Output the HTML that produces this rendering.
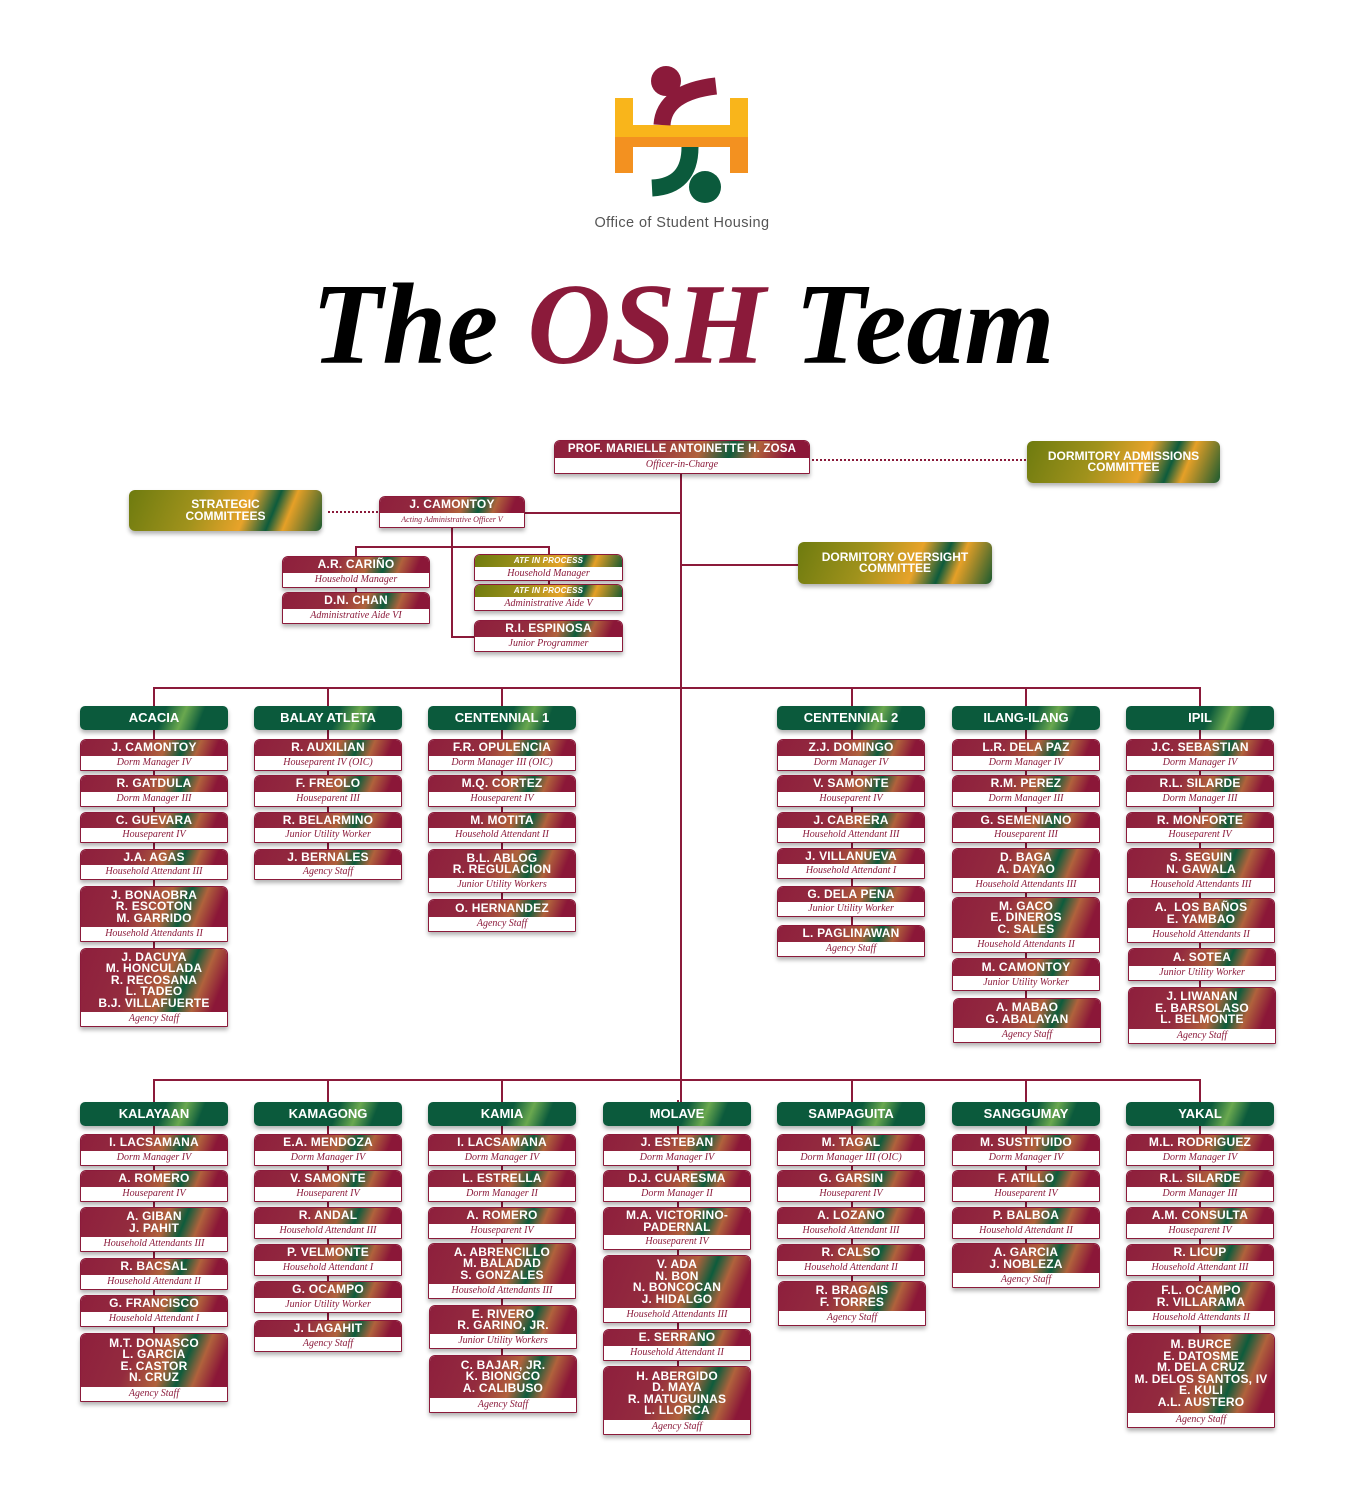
<!DOCTYPE html>
<html><head><meta charset="utf-8"><style>
body{margin:0;background:#fff;width:1354px;height:1509px;position:relative;overflow:hidden;font-family:"Liberation Sans",sans-serif}
.l{position:absolute;background:#8b1a3a}
.d{position:absolute;height:0;border-top:2px dotted #8b1a3a}
.c{position:absolute;width:148px;box-sizing:border-box;border:1px solid #8b1a3a;border-radius:6px 6px 1px 1px;display:flex;flex-direction:column;overflow:hidden;box-shadow:0 3px 4px rgba(0,0,0,.3);background:#fff;z-index:2}
.c b{flex:1;display:flex;align-items:center;justify-content:center;text-align:center;color:#fff;font-size:12px;line-height:11.5px;letter-spacing:.2px;background:linear-gradient(112deg,#8e1f3d 0%,#932b3e 35%,#b0623c 57%,#0d5c3c 69%,#b0623c 79%,#8b1738 91%)}
.c i{height:14px;flex:none;text-align:center;font-family:"Liberation Serif",serif;font-size:10px;line-height:14px;color:#8b1a3a;background:#fff}
.h{position:absolute;width:148px;height:24px;border-radius:5px;color:#fff;font-weight:bold;font-size:13px;line-height:24px;text-align:center;background:linear-gradient(112deg,#0b5a3c 0%,#0b5a3c 55%,#6aa84f 68%,#0b5a3c 80%,#0b5a3c 100%);box-shadow:0 3px 4px rgba(0,0,0,.3);z-index:2}
.m{position:absolute;border-radius:6px;color:#fff;font-weight:bold;font-size:12px;line-height:11.5px;display:flex;align-items:center;justify-content:center;text-align:center;background:linear-gradient(112deg,#6e7b0f 0%,#a0921c 35%,#e8a32a 60%,#0d5b3c 73%,#e6a027 81%,#1a5a30 100%);box-shadow:0 3px 4px rgba(0,0,0,.3);z-index:2}
.a b{background:linear-gradient(112deg,#6e7b0f 0%,#a0921c 35%,#e8a32a 60%,#0d5b3c 73%,#e6a027 81%,#1a5a30 100%);font-size:8px;font-style:italic}
</style></head><body>

<!-- logo -->
<svg style="position:absolute;left:600px;top:60px" width="160" height="150" viewBox="600 60 160 150">
<rect x="615" y="98" width="18" height="39" fill="#f9b51b"/><rect x="730" y="98" width="18" height="39" fill="#f9b51b"/>
<rect x="615" y="125" width="133" height="12" fill="#f9b51b"/>
<rect x="615" y="137" width="18" height="36" fill="#f39120"/><rect x="730" y="137" width="18" height="36" fill="#f39120"/>
<rect x="615" y="137" width="133" height="10" fill="#f39120"/>
<circle cx="666" cy="81" r="15" fill="#8b1a3a"/>
<path d="M662 125 Q664 92 716 86" stroke="#8b1a3a" stroke-width="17" fill="none"/>
<path d="M690 147 Q690 186 652 188" stroke="#0b5a3c" stroke-width="17" fill="none"/>
<circle cx="705" cy="187" r="16" fill="#0b5a3c"/>
</svg>
<div style="position:absolute;left:530px;top:215px;width:304px;text-align:center;font-size:14.5px;color:#555;letter-spacing:.4px">Office of Student Housing</div>
<div style="position:absolute;left:0;top:263px;width:1366px;text-align:center;font-family:'Liberation Serif',serif;font-weight:bold;font-style:italic;font-size:116px;line-height:124px;color:#000">The <span style="color:#8b1a3a">OSH</span> Team</div>

<!-- top connectors -->
<div class="l" style="left:680px;top:474px;width:2px;height:630px"></div>
<div class="l" style="left:525px;top:512px;width:156px;height:2px"></div>
<div class="l" style="left:681px;top:564px;width:118px;height:2px"></div>
<div class="d" style="left:812px;top:459px;width:214px"></div>
<div class="d" style="left:328px;top:511px;width:50px"></div>
<div class="l" style="left:451px;top:528px;width:2px;height:110px"></div>
<div class="l" style="left:355px;top:546px;width:195px;height:2px"></div>
<div class="l" style="left:355px;top:546px;width:2px;height:12px"></div>
<div class="l" style="left:548px;top:546px;width:2px;height:10px"></div>
<div class="l" style="left:451px;top:636px;width:24px;height:2px"></div>
<div class="l" style="left:355px;top:586px;width:2px;height:8px"></div>
<div class="l" style="left:548px;top:580px;width:2px;height:6px"></div>

<div class="c" style="left:554px;top:440px;width:256px;height:34px"><b style="font-size:11.5px">PROF. MARIELLE ANTOINETTE H. ZOSA</b><i style="height:15px">Officer-in-Charge</i></div>
<div class="m" style="left:1027px;top:441px;width:193px;height:42px">DORMITORY ADMISSIONS<br>COMMITTEE</div>
<div class="m" style="left:129px;top:490px;width:193px;height:41px">STRATEGIC<br>COMMITTEES</div>
<div class="m" style="left:798px;top:542px;width:194px;height:42px">DORMITORY OVERSIGHT<br>COMMITTEE</div>
<div class="c" style="left:379px;top:496px;width:146px;height:32px"><b>J. CAMONTOY</b><i style="font-size:8px">Acting Administrative Officer V</i></div>
<div class="c" style="left:282px;top:556px;height:32px"><b>A.R. CARIÑO</b><i>Household Manager</i></div>
<div class="c" style="left:282px;top:592px;height:32px"><b>D.N. CHAN</b><i>Administrative Aide VI</i></div>
<div class="c a" style="left:474px;top:554px;width:149px;height:27px"><b>ATF IN PROCESS</b><i>Household Manager</i></div>
<div class="c a" style="left:474px;top:584px;width:149px;height:27px"><b>ATF IN PROCESS</b><i>Administrative Aide V</i></div>
<div class="c" style="left:474px;top:620px;width:149px;height:32px"><b>R.I. ESPINOSA</b><i>Junior Programmer</i></div>

<!-- row1 connectors -->
<div class="l" style="left:153px;top:687px;width:1048px;height:2px"></div>
<div class="l" style="left:153px;top:687px;width:2px;height:330px"></div>
<div class="l" style="left:327px;top:687px;width:2px;height:180px"></div>
<div class="l" style="left:501px;top:687px;width:2px;height:220px"></div>
<div class="l" style="left:851px;top:687px;width:2px;height:250px"></div>
<div class="l" style="left:1025px;top:687px;width:2px;height:320px"></div>
<div class="l" style="left:1199px;top:687px;width:2px;height:320px"></div>

<div class="h" style="left:80px;top:706px">ACACIA</div>
<div class="h" style="left:254px;top:706px">BALAY ATLETA</div>
<div class="h" style="left:428px;top:706px">CENTENNIAL 1</div>
<div class="h" style="left:777px;top:706px">CENTENNIAL 2</div>
<div class="h" style="left:952px;top:706px">ILANG-ILANG</div>
<div class="h" style="left:1126px;top:706px">IPIL</div>

<div class="c" style="left:80px;top:739px;height:32px"><b>J. CAMONTOY</b><i>Dorm Manager IV</i></div>
<div class="c" style="left:80px;top:775px;height:32px"><b>R. GATDULA</b><i>Dorm Manager III</i></div>
<div class="c" style="left:80px;top:812px;height:31px"><b>C. GUEVARA</b><i>Houseparent IV</i></div>
<div class="c" style="left:80px;top:849px;height:31px"><b>J.A. AGAS</b><i>Household Attendant III</i></div>
<div class="c" style="left:80px;top:886px;height:56px"><b>J. BONAOBRA<br>R. ESCOTON<br>M. GARRIDO</b><i>Household Attendants II</i></div>
<div class="c" style="left:80px;top:948px;height:79px"><b>J. DACUYA<br>M. HONCULADA<br>R. RECOSANA<br>L. TADEO<br>B.J. VILLAFUERTE</b><i>Agency Staff</i></div>

<div class="c" style="left:254px;top:739px;height:32px"><b>R. AUXILIAN</b><i>Houseparent IV (OIC)</i></div>
<div class="c" style="left:254px;top:775px;height:32px"><b>F. FREOLO</b><i>Houseparent III</i></div>
<div class="c" style="left:254px;top:812px;height:31px"><b>R. BELARMINO</b><i>Junior Utility Worker</i></div>
<div class="c" style="left:254px;top:849px;height:31px"><b>J. BERNALES</b><i>Agency Staff</i></div>

<div class="c" style="left:428px;top:739px;height:32px"><b>F.R. OPULENCIA</b><i>Dorm Manager III (OIC)</i></div>
<div class="c" style="left:428px;top:775px;height:32px"><b>M.Q. CORTEZ</b><i>Houseparent IV</i></div>
<div class="c" style="left:428px;top:812px;height:31px"><b>M. MOTITA</b><i>Household Attendant II</i></div>
<div class="c" style="left:428px;top:849px;height:44px"><b>B.L. ABLOG<br>R. REGULACION</b><i>Junior Utility Workers</i></div>
<div class="c" style="left:428px;top:899px;height:33px"><b>O. HERNANDEZ</b><i>Agency Staff</i></div>

<div class="c" style="left:777px;top:739px;height:32px"><b>Z.J. DOMINGO</b><i>Dorm Manager IV</i></div>
<div class="c" style="left:777px;top:775px;height:32px"><b>V. SAMONTE</b><i>Houseparent IV</i></div>
<div class="c" style="left:777px;top:812px;height:31px"><b>J. CABRERA</b><i>Household Attendant III</i></div>
<div class="c" style="left:777px;top:848px;height:31px"><b>J. VILLANUEVA</b><i>Household Attendant I</i></div>
<div class="c" style="left:777px;top:886px;height:31px"><b>G. DELA PENA</b><i>Junior Utility Worker</i></div>
<div class="c" style="left:777px;top:925px;height:32px"><b>L. PAGLINAWAN</b><i>Agency Staff</i></div>

<div class="c" style="left:952px;top:739px;height:32px"><b>L.R. DELA PAZ</b><i>Dorm Manager IV</i></div>
<div class="c" style="left:952px;top:775px;height:32px"><b>R.M. PEREZ</b><i>Dorm Manager III</i></div>
<div class="c" style="left:952px;top:812px;height:31px"><b>G. SEMENIANO</b><i>Houseparent III</i></div>
<div class="c" style="left:952px;top:848px;height:45px"><b>D. BAGA<br>A. DAYAO</b><i>Household Attendants III</i></div>
<div class="c" style="left:952px;top:897px;height:56px"><b>M. GACO<br>E. DINEROS<br>C. SALES</b><i>Household Attendants II</i></div>
<div class="c" style="left:952px;top:958px;height:33px"><b>M. CAMONTOY</b><i>Junior Utility Worker</i></div>
<div class="c" style="left:953px;top:998px;height:45px"><b>A. MABAO<br>G. ABALAYAN</b><i>Agency Staff</i></div>

<div class="c" style="left:1126px;top:739px;height:32px"><b>J.C. SEBASTIAN</b><i>Dorm Manager IV</i></div>
<div class="c" style="left:1126px;top:775px;height:32px"><b>R.L. SILARDE</b><i>Dorm Manager III</i></div>
<div class="c" style="left:1126px;top:812px;height:31px"><b>R. MONFORTE</b><i>Houseparent IV</i></div>
<div class="c" style="left:1127px;top:848px;height:45px"><b>S. SEGUIN<br>N. GAWALA</b><i>Household Attendants III</i></div>
<div class="c" style="left:1127px;top:898px;height:45px"><b>A.&nbsp; LOS BAÑOS<br>E. YAMBAO</b><i>Household Attendants II</i></div>
<div class="c" style="left:1128px;top:948px;height:33px"><b>A. SOTEA</b><i>Junior Utility Worker</i></div>
<div class="c" style="left:1128px;top:987px;height:57px"><b>J. LIWANAN<br>E. BARSOLASO<br>L. BELMONTE</b><i>Agency Staff</i></div>

<!-- row2 connectors -->
<div class="l" style="left:153px;top:1079px;width:1048px;height:2px"></div>
<div class="l" style="left:153px;top:1079px;width:2px;height:260px"></div>
<div class="l" style="left:327px;top:1079px;width:2px;height:250px"></div>
<div class="l" style="left:501px;top:1079px;width:2px;height:290px"></div>
<div class="l" style="left:677px;top:1100px;width:2px;height:280px"></div>
<div class="l" style="left:851px;top:1079px;width:2px;height:210px"></div>
<div class="l" style="left:1025px;top:1079px;width:2px;height:170px"></div>
<div class="l" style="left:1199px;top:1079px;width:2px;height:260px"></div>

<div class="h" style="left:80px;top:1102px">KALAYAAN</div>
<div class="h" style="left:254px;top:1102px">KAMAGONG</div>
<div class="h" style="left:428px;top:1102px">KAMIA</div>
<div class="h" style="left:603px;top:1102px">MOLAVE</div>
<div class="h" style="left:777px;top:1102px">SAMPAGUITA</div>
<div class="h" style="left:952px;top:1102px">SANGGUMAY</div>
<div class="h" style="left:1126px;top:1102px">YAKAL</div>

<div class="c" style="left:80px;top:1134px;height:32px"><b>I. LACSAMANA</b><i>Dorm Manager IV</i></div>
<div class="c" style="left:80px;top:1170px;height:32px"><b>A. ROMERO</b><i>Houseparent IV</i></div>
<div class="c" style="left:80px;top:1207px;height:45px"><b>A. GIBAN<br>J. PAHIT</b><i>Household Attendants III</i></div>
<div class="c" style="left:80px;top:1258px;height:32px"><b>R. BACSAL</b><i>Household Attendant II</i></div>
<div class="c" style="left:80px;top:1295px;height:32px"><b>G. FRANCISCO</b><i>Household Attendant I</i></div>
<div class="c" style="left:80px;top:1333px;height:69px"><b>M.T. DONASCO<br>L. GARCIA<br>E. CASTOR<br>N. CRUZ</b><i>Agency Staff</i></div>

<div class="c" style="left:254px;top:1134px;height:32px"><b>E.A. MENDOZA</b><i>Dorm Manager IV</i></div>
<div class="c" style="left:254px;top:1170px;height:32px"><b>V. SAMONTE</b><i>Houseparent IV</i></div>
<div class="c" style="left:254px;top:1207px;height:32px"><b>R. ANDAL</b><i>Household Attendant III</i></div>
<div class="c" style="left:254px;top:1244px;height:32px"><b>P. VELMONTE</b><i>Household Attendant I</i></div>
<div class="c" style="left:254px;top:1281px;height:32px"><b>G. OCAMPO</b><i>Junior Utility Worker</i></div>
<div class="c" style="left:254px;top:1320px;height:32px"><b>J. LAGAHIT</b><i>Agency Staff</i></div>

<div class="c" style="left:428px;top:1134px;height:32px"><b>I. LACSAMANA</b><i>Dorm Manager IV</i></div>
<div class="c" style="left:428px;top:1170px;height:32px"><b>L. ESTRELLA</b><i>Dorm Manager II</i></div>
<div class="c" style="left:428px;top:1207px;height:32px"><b>A. ROMERO</b><i>Houseparent IV</i></div>
<div class="c" style="left:428px;top:1243px;height:56px"><b>A. ABRENCILLO<br>M. BALADAD<br>S. GONZALES</b><i>Household Attendants III</i></div>
<div class="c" style="left:429px;top:1305px;height:44px"><b>E. RIVERO<br>R. GARINO, JR.</b><i>Junior Utility Workers</i></div>
<div class="c" style="left:429px;top:1355px;height:58px"><b>C. BAJAR, JR.<br>K. BIONGCO<br>A. CALIBUSO</b><i>Agency Staff</i></div>

<div class="c" style="left:603px;top:1134px;height:32px"><b>J. ESTEBAN</b><i>Dorm Manager IV</i></div>
<div class="c" style="left:603px;top:1170px;height:32px"><b>D.J. CUARESMA</b><i>Dorm Manager II</i></div>
<div class="c" style="left:603px;top:1207px;height:43px"><b>M.A. VICTORINO-<br>PADERNAL</b><i>Houseparent IV</i></div>
<div class="c" style="left:603px;top:1255px;height:68px"><b>V. ADA<br>N. BON<br>N. BONCOCAN<br>J. HIDALGO</b><i>Household Attendants III</i></div>
<div class="c" style="left:603px;top:1329px;height:32px"><b>E. SERRANO</b><i>Household Attendant II</i></div>
<div class="c" style="left:603px;top:1366px;height:69px"><b>H. ABERGIDO<br>D. MAYA<br>R. MATUGUINAS<br>L. LLORCA</b><i>Agency Staff</i></div>

<div class="c" style="left:777px;top:1134px;height:32px"><b>M. TAGAL</b><i>Dorm Manager III (OIC)</i></div>
<div class="c" style="left:777px;top:1170px;height:32px"><b>G. GARSIN</b><i>Houseparent IV</i></div>
<div class="c" style="left:777px;top:1207px;height:32px"><b>A. LOZANO</b><i>Household Attendant III</i></div>
<div class="c" style="left:777px;top:1244px;height:32px"><b>R. CALSO</b><i>Household Attendant II</i></div>
<div class="c" style="left:778px;top:1281px;height:45px"><b>R. BRAGAIS<br>F. TORRES</b><i>Agency Staff</i></div>

<div class="c" style="left:952px;top:1134px;height:32px"><b>M. SUSTITUIDO</b><i>Dorm Manager IV</i></div>
<div class="c" style="left:952px;top:1170px;height:32px"><b>F. ATILLO</b><i>Houseparent IV</i></div>
<div class="c" style="left:952px;top:1207px;height:32px"><b>P. BALBOA</b><i>Household Attendant II</i></div>
<div class="c" style="left:952px;top:1243px;height:45px"><b>A. GARCIA<br>J. NOBLEZA</b><i>Agency Staff</i></div>

<div class="c" style="left:1126px;top:1134px;height:32px"><b>M.L. RODRIGUEZ</b><i>Dorm Manager IV</i></div>
<div class="c" style="left:1126px;top:1170px;height:32px"><b>R.L. SILARDE</b><i>Dorm Manager III</i></div>
<div class="c" style="left:1126px;top:1207px;height:32px"><b>A.M. CONSULTA</b><i>Houseparent IV</i></div>
<div class="c" style="left:1126px;top:1244px;height:32px"><b>R. LICUP</b><i>Household Attendant III</i></div>
<div class="c" style="left:1127px;top:1281px;height:45px"><b>F.L. OCAMPO<br>R. VILLARAMA</b><i>Household Attendants II</i></div>
<div class="c" style="left:1127px;top:1333px;height:95px"><b>M. BURCE<br>E. DATOSME<br>M. DELA CRUZ<br>M. DELOS SANTOS, IV<br>E. KULI<br>A.L. AUSTERO</b><i>Agency Staff</i></div>

</body></html>
